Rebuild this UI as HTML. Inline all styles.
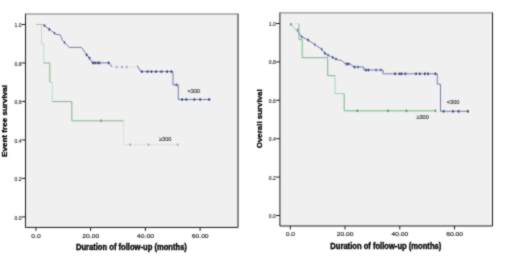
<!DOCTYPE html>
<html><head><meta charset="utf-8"><style>
html,body{margin:0;padding:0;background:#fff;}
svg{display:block;}
text{font-family:"Liberation Sans",sans-serif;fill:#000;stroke:#000;stroke-width:0.35px;}
.yt{font-size:6px;text-anchor:end;fill:#222;stroke:#222;stroke-width:0.12px;}
.xt{font-size:6.1px;text-anchor:middle;fill:#222;stroke:#222;stroke-width:0.15px;}
.xtitle{font-size:8.2px;font-weight:bold;fill:#000;stroke:#000;stroke-width:0.35px;}
.ytitle{font-size:8px;font-weight:bold;fill:#000;stroke:#000;stroke-width:0.3px;text-anchor:middle;}
.lab{font-size:5.6px;fill:#333;stroke:#333;stroke-width:0.15px;}
</style></head><body>
<svg width="520" height="260" viewBox="0 0 520 260">
<defs><filter id="bl" x="0" y="0" width="520" height="260" filterUnits="userSpaceOnUse"><feConvolveMatrix color-interpolation-filters="sRGB" order="3" kernelMatrix="1 2 1 2 12 2 1 2 1" edgeMode="duplicate"/></filter></defs>
<g filter="url(#bl)">
<rect width="520" height="260" fill="#fff"/>
<rect x="25.50" y="14.00" width="212.50" height="213.45" fill="#f0f0f0"/>
<path d="M25.50 13.50 V227.45 H238.00 V13.50" fill="none" stroke="#1a1a1a" stroke-width="1"/>
<line x1="25.50" y1="14.00" x2="238.00" y2="14.00" stroke="#777" stroke-width="1"/>
<line x1="21.70" y1="216.90" x2="25.50" y2="216.90" stroke="#1a1a1a" stroke-width="1"/>
<text transform="translate(21.50 219.50) scale(0.85 1)" class="yt">0.0</text>
<line x1="21.70" y1="178.42" x2="25.50" y2="178.42" stroke="#1a1a1a" stroke-width="1"/>
<text transform="translate(21.50 181.02) scale(0.85 1)" class="yt">0.2</text>
<line x1="21.70" y1="139.94" x2="25.50" y2="139.94" stroke="#1a1a1a" stroke-width="1"/>
<text transform="translate(21.50 142.54) scale(0.85 1)" class="yt">0.4</text>
<line x1="21.70" y1="101.46" x2="25.50" y2="101.46" stroke="#1a1a1a" stroke-width="1"/>
<text transform="translate(21.50 104.06) scale(0.85 1)" class="yt">0.6</text>
<line x1="21.70" y1="62.98" x2="25.50" y2="62.98" stroke="#1a1a1a" stroke-width="1"/>
<text transform="translate(21.50 65.58) scale(0.85 1)" class="yt">0.8</text>
<line x1="21.70" y1="24.50" x2="25.50" y2="24.50" stroke="#1a1a1a" stroke-width="1"/>
<text transform="translate(21.50 27.10) scale(0.85 1)" class="yt">1.0</text>
<line x1="35.90" y1="227.45" x2="35.90" y2="230.95" stroke="#1a1a1a" stroke-width="1"/>
<text transform="translate(36.00 237.85) scale(1.1 1)" class="xt">0.0</text>
<line x1="90.63" y1="227.45" x2="90.63" y2="230.95" stroke="#1a1a1a" stroke-width="1"/>
<text transform="translate(90.73 237.85) scale(1.1 1)" class="xt">20.00</text>
<line x1="145.37" y1="227.45" x2="145.37" y2="230.95" stroke="#1a1a1a" stroke-width="1"/>
<text transform="translate(145.47 237.85) scale(1.1 1)" class="xt">40.00</text>
<line x1="200.10" y1="227.45" x2="200.10" y2="230.95" stroke="#1a1a1a" stroke-width="1"/>
<text transform="translate(200.20 237.85) scale(1.1 1)" class="xt">60.00</text>
<text x="75.90" y="250.15" class="xtitle" textLength="111" lengthAdjust="spacingAndGlyphs">Duration of follow-up (months)</text>
<text transform="translate(7.10 121.00) rotate(-90)" class="ytitle" textLength="72.0" lengthAdjust="spacingAndGlyphs">Event free survival</text>
<path d="M35.90 24.50 L43.00 24.50" fill="none" stroke="#aaa" stroke-width="1.00" stroke-opacity="0.80"/>
<path d="M41.50 24.50 L41.50 43.90 L43.80 43.90 L43.80 63.00" fill="none" stroke="#6cb47c" stroke-width="1.00" stroke-opacity="0.35"/>
<path d="M43.80 63.00 L49.80 63.00 L49.80 82.30" fill="none" stroke="#6cb47c" stroke-width="1.00" stroke-opacity="0.90"/>
<path d="M49.80 82.30 L52.30 82.30 L52.30 101.60" fill="none" stroke="#6cb47c" stroke-width="1.00" stroke-opacity="0.35"/>
<path d="M52.30 101.60 L71.80 101.60 L71.80 120.80 L123.50 120.80" fill="none" stroke="#6cb47c" stroke-width="1.00" stroke-opacity="0.90"/>
<path d="M123.50 120.80 L123.50 144.70 L178.00 144.70" fill="none" stroke="#6cb47c" stroke-width="1.00" stroke-opacity="0.20"/>
<path d="M43.00 24.50 L43.80 25.20 L50.80 30.40 L53.00 32.00 L56.00 34.30 L60.30 34.90 L62.30 40.20 L69.20 47.40 L81.50 47.40 L84.80 52.20 L89.40 58.00 L91.50 61.00 L92.00 62.90 L109.40 62.90 L111.70 66.90" fill="none" stroke="#4a5694" stroke-width="1.00" stroke-opacity="0.75"/>
<path d="M111.70 66.90 L137.50 66.90" fill="none" stroke="#4a5694" stroke-width="1.00" stroke-opacity="0.10"/>
<path d="M137.20 65.50 L140.20 70.80 L140.60 71.60 L173.00 71.60 L173.00 84.90 L178.30 84.90 L178.30 99.50 L210.90 99.50" fill="none" stroke="#4a5694" stroke-width="1.00" stroke-opacity="0.75"/>
<rect x="92.20" y="61.60" width="1.6" height="2.6" fill="#2c3474" fill-opacity="0.90"/>
<rect x="94.20" y="61.60" width="1.6" height="2.6" fill="#2c3474" fill-opacity="0.90"/>
<rect x="96.70" y="61.60" width="1.6" height="2.6" fill="#2c3474" fill-opacity="0.90"/>
<rect x="98.70" y="61.60" width="1.6" height="2.6" fill="#2c3474" fill-opacity="0.90"/>
<rect x="107.80" y="61.60" width="1.6" height="2.6" fill="#2c3474" fill-opacity="0.90"/>
<rect x="115.90" y="65.70" width="1.6" height="2.6" fill="#4a5694" fill-opacity="0.45"/>
<rect x="121.20" y="65.70" width="1.6" height="2.6" fill="#4a5694" fill-opacity="0.45"/>
<rect x="125.90" y="65.70" width="1.6" height="2.6" fill="#4a5694" fill-opacity="0.45"/>
<rect x="141.00" y="70.30" width="1.6" height="2.6" fill="#2c3474" fill-opacity="0.90"/>
<rect x="146.70" y="70.30" width="1.6" height="2.6" fill="#2c3474" fill-opacity="0.90"/>
<rect x="150.60" y="70.30" width="1.6" height="2.6" fill="#2c3474" fill-opacity="0.90"/>
<rect x="155.20" y="70.30" width="1.6" height="2.6" fill="#2c3474" fill-opacity="0.90"/>
<rect x="160.60" y="70.30" width="1.6" height="2.6" fill="#2c3474" fill-opacity="0.90"/>
<rect x="166.40" y="70.30" width="1.6" height="2.6" fill="#2c3474" fill-opacity="0.90"/>
<rect x="170.60" y="70.30" width="1.6" height="2.6" fill="#2c3474" fill-opacity="0.90"/>
<rect x="181.30" y="98.20" width="1.6" height="2.6" fill="#2c3474" fill-opacity="0.90"/>
<rect x="185.50" y="98.20" width="1.6" height="2.6" fill="#2c3474" fill-opacity="0.90"/>
<rect x="193.60" y="98.20" width="1.6" height="2.6" fill="#2c3474" fill-opacity="0.90"/>
<rect x="199.40" y="98.20" width="1.6" height="2.6" fill="#2c3474" fill-opacity="0.90"/>
<rect x="208.20" y="98.20" width="1.6" height="2.6" fill="#2c3474" fill-opacity="0.90"/>
<rect x="175.70" y="83.60" width="1.6" height="2.6" fill="#2c3474" fill-opacity="0.70"/>
<rect x="43.70" y="24.30" width="1.6" height="2.6" fill="#2c3474" fill-opacity="0.70"/>
<rect x="48.50" y="28.10" width="1.6" height="2.6" fill="#2c3474" fill-opacity="0.90"/>
<rect x="53.70" y="31.90" width="1.6" height="2.6" fill="#2c3474" fill-opacity="0.60"/>
<rect x="63.70" y="41.20" width="1.6" height="2.6" fill="#2c3474" fill-opacity="0.60"/>
<rect x="85.80" y="53.60" width="1.6" height="2.6" fill="#2c3474" fill-opacity="0.90"/>
<rect x="88.60" y="56.70" width="1.6" height="2.6" fill="#2c3474" fill-opacity="0.90"/>
<rect x="100.00" y="119.50" width="1.6" height="2.6" fill="#4f8a5e" fill-opacity="0.70"/>
<rect x="129.40" y="143.40" width="1.6" height="2.6" fill="#888" fill-opacity="0.60"/>
<rect x="147.70" y="143.40" width="1.6" height="2.6" fill="#888" fill-opacity="0.60"/>
<rect x="176.90" y="143.40" width="1.6" height="2.6" fill="#888" fill-opacity="0.60"/>
<text x="187.60" y="92.80" class="lab">&lt;300</text>
<text x="159.00" y="141.00" class="lab">&ge;300</text>
<rect x="279.90" y="12.90" width="212.60" height="213.10" fill="#f0f0f0"/>
<path d="M279.90 12.40 V226.00 H492.50 V12.40" fill="none" stroke="#1a1a1a" stroke-width="1"/>
<line x1="279.90" y1="12.90" x2="492.50" y2="12.90" stroke="#777" stroke-width="1"/>
<line x1="276.10" y1="215.50" x2="279.90" y2="215.50" stroke="#1a1a1a" stroke-width="1"/>
<text transform="translate(275.90 218.00) scale(0.85 1)" class="yt">0.0</text>
<line x1="276.10" y1="177.10" x2="279.90" y2="177.10" stroke="#1a1a1a" stroke-width="1"/>
<text transform="translate(275.90 179.60) scale(0.85 1)" class="yt">0.2</text>
<line x1="276.10" y1="138.70" x2="279.90" y2="138.70" stroke="#1a1a1a" stroke-width="1"/>
<text transform="translate(275.90 141.20) scale(0.85 1)" class="yt">0.4</text>
<line x1="276.10" y1="100.30" x2="279.90" y2="100.30" stroke="#1a1a1a" stroke-width="1"/>
<text transform="translate(275.90 102.80) scale(0.85 1)" class="yt">0.6</text>
<line x1="276.10" y1="61.90" x2="279.90" y2="61.90" stroke="#1a1a1a" stroke-width="1"/>
<text transform="translate(275.90 64.40) scale(0.85 1)" class="yt">0.8</text>
<line x1="276.10" y1="23.50" x2="279.90" y2="23.50" stroke="#1a1a1a" stroke-width="1"/>
<text transform="translate(275.90 26.00) scale(0.85 1)" class="yt">1.0</text>
<line x1="290.30" y1="226.00" x2="290.30" y2="229.50" stroke="#1a1a1a" stroke-width="1"/>
<text transform="translate(290.40 236.20) scale(1.1 1)" class="xt">0.0</text>
<line x1="345.03" y1="226.00" x2="345.03" y2="229.50" stroke="#1a1a1a" stroke-width="1"/>
<text transform="translate(345.13 236.20) scale(1.1 1)" class="xt">20.00</text>
<line x1="399.77" y1="226.00" x2="399.77" y2="229.50" stroke="#1a1a1a" stroke-width="1"/>
<text transform="translate(399.87 236.20) scale(1.1 1)" class="xt">40.00</text>
<line x1="454.50" y1="226.00" x2="454.50" y2="229.50" stroke="#1a1a1a" stroke-width="1"/>
<text transform="translate(454.60 236.20) scale(1.1 1)" class="xt">60.00</text>
<text x="330.30" y="249.00" class="xtitle" textLength="111" lengthAdjust="spacingAndGlyphs">Duration of follow-up (months)</text>
<text transform="translate(262.40 118.80) rotate(-90)" class="ytitle" textLength="58.8" lengthAdjust="spacingAndGlyphs">Overall survival</text>
<path d="M290.30 23.50 L299.00 23.50" fill="none" stroke="#6cb47c" stroke-width="1.00" stroke-opacity="0.15"/>
<path d="M290.30 23.50 L290.90 24.50 L295.50 29.50 L297.50 31.00" fill="none" stroke="#4a5694" stroke-width="1.00" stroke-opacity="0.35"/>
<path d="M297.50 31.00 L301.70 36.90 L308.20 40.00 L314.80 44.60 L321.70 49.20 L324.90 53.30" fill="none" stroke="#4a5694" stroke-width="1.00" stroke-opacity="0.75"/>
<path d="M299.00 23.50 L299.00 39.60 L302.20 39.60 L302.20 57.70 L327.70 57.70 L327.70 75.70 L335.00 75.70" fill="none" stroke="#6cb47c" stroke-width="1.00" stroke-opacity="0.90"/>
<path d="M335.00 75.70 L335.00 93.60 L344.20 93.60" fill="none" stroke="#6cb47c" stroke-width="1.00" stroke-opacity="0.50"/>
<path d="M344.20 93.60 L344.20 110.80 L435.40 110.80" fill="none" stroke="#6cb47c" stroke-width="1.00" stroke-opacity="0.95"/>
<path d="M324.90 53.30 L332.60 57.50 L338.00 59.80 L341.80 60.60 L344.90 63.50 L350.80 64.00 L353.00 67.00 L363.80 67.00 L363.80 70.00 L383.00 70.00 L383.00 73.80 L437.30 73.80 L437.30 84.20 L440.50 84.20 L440.50 111.30 L469.00 111.30" fill="none" stroke="#4a5694" stroke-width="1.00" stroke-opacity="0.75"/>
<rect x="290.10" y="23.10" width="1.6" height="2.6" fill="#2c3474" fill-opacity="0.50"/>
<rect x="296.70" y="28.70" width="1.6" height="2.6" fill="#2c3474" fill-opacity="0.50"/>
<rect x="300.90" y="35.60" width="1.6" height="2.6" fill="#2c3474" fill-opacity="0.60"/>
<rect x="307.40" y="38.70" width="1.6" height="2.6" fill="#2c3474" fill-opacity="0.80"/>
<rect x="314.00" y="43.30" width="1.6" height="2.6" fill="#2c3474" fill-opacity="0.50"/>
<rect x="320.90" y="47.90" width="1.6" height="2.6" fill="#2c3474" fill-opacity="0.60"/>
<rect x="324.10" y="52.00" width="1.6" height="2.6" fill="#2c3474" fill-opacity="0.80"/>
<rect x="327.20" y="53.90" width="1.6" height="2.6" fill="#2c3474" fill-opacity="0.60"/>
<rect x="331.80" y="56.20" width="1.6" height="2.6" fill="#2c3474" fill-opacity="0.80"/>
<rect x="335.20" y="57.70" width="1.6" height="2.6" fill="#2c3474" fill-opacity="0.70"/>
<rect x="345.70" y="62.70" width="1.6" height="2.6" fill="#2c3474" fill-opacity="0.90"/>
<rect x="347.70" y="62.70" width="1.6" height="2.6" fill="#2c3474" fill-opacity="0.90"/>
<rect x="353.70" y="65.70" width="1.6" height="2.6" fill="#2c3474" fill-opacity="0.90"/>
<rect x="357.20" y="65.70" width="1.6" height="2.6" fill="#2c3474" fill-opacity="0.70"/>
<rect x="365.20" y="68.70" width="1.6" height="2.6" fill="#2c3474" fill-opacity="0.90"/>
<rect x="367.70" y="68.70" width="1.6" height="2.6" fill="#2c3474" fill-opacity="0.90"/>
<rect x="375.20" y="68.70" width="1.6" height="2.6" fill="#2c3474" fill-opacity="0.60"/>
<rect x="380.00" y="68.70" width="1.6" height="2.6" fill="#2c3474" fill-opacity="0.60"/>
<rect x="394.20" y="72.50" width="1.6" height="2.6" fill="#2c3474" fill-opacity="0.90"/>
<rect x="398.80" y="72.50" width="1.6" height="2.6" fill="#2c3474" fill-opacity="0.90"/>
<rect x="400.70" y="72.50" width="1.6" height="2.6" fill="#2c3474" fill-opacity="0.90"/>
<rect x="404.60" y="72.50" width="1.6" height="2.6" fill="#2c3474" fill-opacity="0.90"/>
<rect x="415.30" y="72.50" width="1.6" height="2.6" fill="#2c3474" fill-opacity="0.90"/>
<rect x="419.00" y="72.50" width="1.6" height="2.6" fill="#2c3474" fill-opacity="0.90"/>
<rect x="424.00" y="72.50" width="1.6" height="2.6" fill="#2c3474" fill-opacity="0.90"/>
<rect x="427.30" y="72.50" width="1.6" height="2.6" fill="#2c3474" fill-opacity="0.90"/>
<rect x="434.60" y="72.50" width="1.6" height="2.6" fill="#2c3474" fill-opacity="0.90"/>
<rect x="442.80" y="110.00" width="1.6" height="2.6" fill="#2c3474" fill-opacity="0.90"/>
<rect x="452.10" y="110.00" width="1.6" height="2.6" fill="#2c3474" fill-opacity="0.90"/>
<rect x="457.80" y="110.00" width="1.6" height="2.6" fill="#2c3474" fill-opacity="0.90"/>
<rect x="467.10" y="110.00" width="1.6" height="2.6" fill="#2c3474" fill-opacity="0.90"/>
<rect x="356.50" y="109.50" width="1.6" height="2.6" fill="#4f8a5e" fill-opacity="0.80"/>
<rect x="387.20" y="109.50" width="1.6" height="2.6" fill="#4f8a5e" fill-opacity="0.80"/>
<rect x="405.70" y="109.50" width="1.6" height="2.6" fill="#4f8a5e" fill-opacity="0.80"/>
<rect x="434.60" y="109.50" width="1.6" height="2.6" fill="#4f8a5e" fill-opacity="0.80"/>
<text x="446.80" y="104.20" class="lab">&lt;300</text>
<text x="416.40" y="119.40" class="lab">&ge;300</text>
</g>
</svg>
</body></html>
